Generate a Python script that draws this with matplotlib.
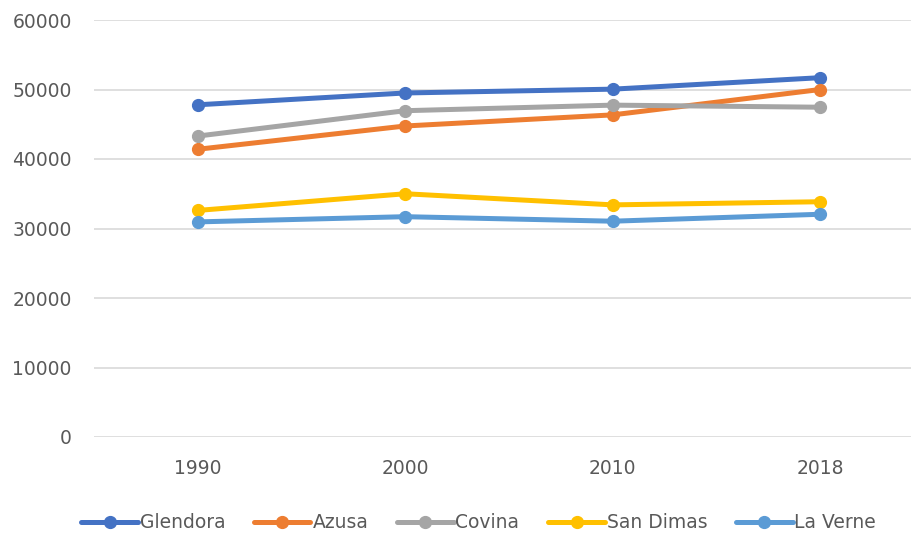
import matplotlib.pyplot as plt
import numpy as np

years = ['1990', '2000', '2010', '2018']
glendora = [47800, 49500, 50050, 51700]
azusa = [41400, 44750, 46350, 50000]
covina = [43300, 46950, 47750, 47450]
san_dimas = [32600, 35000, 33400, 33850]
la_verne = [30950, 31700, 31050, 32050]

series = [glendora, azusa, covina, san_dimas, la_verne]
labels = ['Glendora', 'Azusa', 'Covina', 'San Dimas', 'La Verne']
colors = ['#4472C4', '#ED7D31', '#A5A5A5', '#FFC000', '#5B9BD5']

fig = plt.figure(figsize=(9.12, 5.33), dpi=100)
ax = fig.add_axes([94 / 912, (533 - 437) / 533, (924 - 94) / 912, (437 - 20) / 533])

x = np.arange(len(years))
for vals, lab, col in zip(series, labels, colors):
    ax.plot(x, vals, color=col, linewidth=3.6, marker='o', markersize=8.5,
            label=lab, solid_capstyle='round', zorder=3)

ax.set_xlim(-0.5, 3.5)
ax.set_ylim(0, 60000)
ax.set_yticks(np.arange(0, 60001, 10000))
ax.set_xticks(x)
ax.set_xticklabels(years)
ax.grid(axis='y', color='#d9d9d9', linewidth=1.2)
ax.set_axisbelow(True)
for s in ax.spines.values():
    s.set_visible(False)
ax.tick_params(axis='both', length=0, labelsize=13.5, colors='#595959')
ax.tick_params(axis='y', pad=16)
ax.tick_params(axis='x', pad=16)

fig.legend(loc='center', ncol=5, frameon=False, fontsize=13.5,
           bbox_to_anchor=(0.525, 1 - 523 / 533), handlelength=3.0,
           columnspacing=1.55, handletextpad=0.1, labelcolor='#595959')

plt.savefig('out.png', dpi=100)
